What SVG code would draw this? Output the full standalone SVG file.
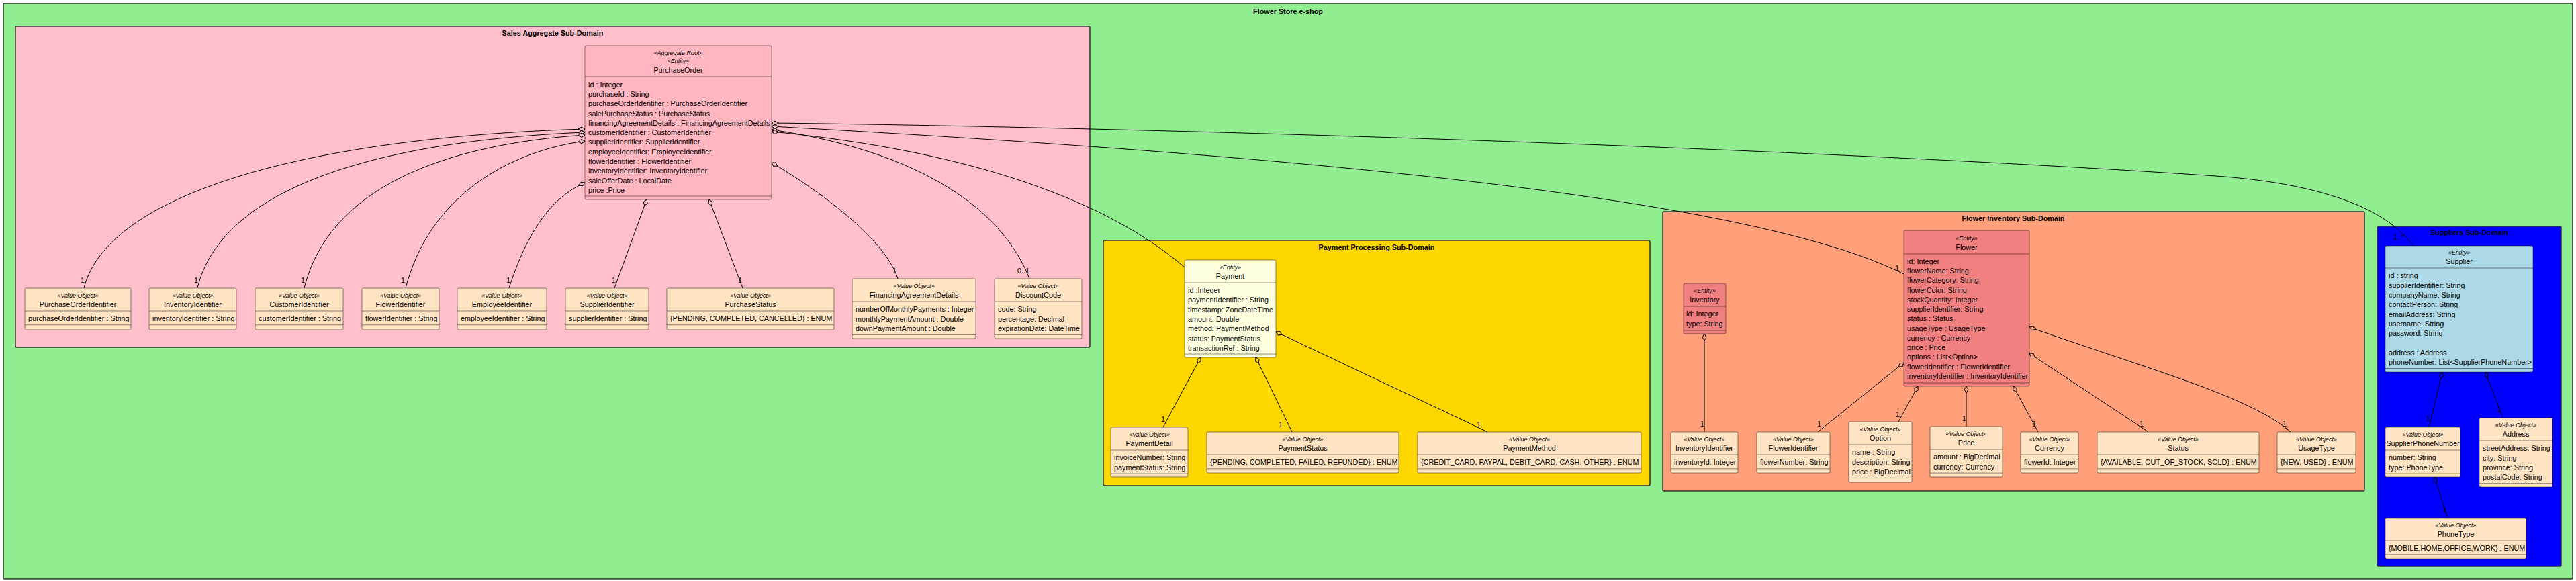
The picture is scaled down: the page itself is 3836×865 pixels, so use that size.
<svg xmlns="http://www.w3.org/2000/svg" width="3836" height="865" viewBox="0 0 3836 865">
<style>
text{font-family:"Liberation Sans",Arial,sans-serif;font-size:10.8px;fill:#000}
.t{font-weight:bold;text-anchor:middle}
.st{font-style:italic;font-size:9px;text-anchor:middle}
.nm{text-anchor:middle}
.ml{text-anchor:middle}
.ct{stroke:#333;stroke-width:1.5}
.bx{stroke:#000;stroke-opacity:.45;stroke-width:1}
.s{stroke:#000;stroke-opacity:.45;stroke-width:1}
.vo{fill:#FFE4C4}
.ln{fill:none;stroke:#000;stroke-width:1}
.lp{marker-start:url(#dp)}
.ly{marker-start:url(#dy)}
.ls{marker-start:url(#ds)}
.lb{marker-start:url(#db)}
</style>
<defs>
<marker id="dp" markerWidth="12" markerHeight="8" refX="0.5" refY="4" orient="auto" markerUnits="userSpaceOnUse" viewBox="0 0 12 8"><path d="M0.5,4 L5.5,1 L10.5,4 L5.5,7 Z" fill="#FFC0CB" stroke="#000" stroke-width="1"/></marker>
<marker id="dy" markerWidth="12" markerHeight="8" refX="0.5" refY="4" orient="auto" markerUnits="userSpaceOnUse" viewBox="0 0 12 8"><path d="M0.5,4 L5.5,1 L10.5,4 L5.5,7 Z" fill="#FFD700" stroke="#000" stroke-width="1"/></marker>
<marker id="ds" markerWidth="12" markerHeight="8" refX="0.5" refY="4" orient="auto" markerUnits="userSpaceOnUse" viewBox="0 0 12 8"><path d="M0.5,4 L5.5,1 L10.5,4 L5.5,7 Z" fill="#FFA07A" stroke="#000" stroke-width="1"/></marker>
<marker id="db" markerWidth="12" markerHeight="8" refX="0.5" refY="4" orient="auto" markerUnits="userSpaceOnUse" viewBox="0 0 12 8"><path d="M0.5,4 L5.5,1 L10.5,4 L5.5,7 Z" fill="#0000FF" stroke="#000" stroke-width="1"/></marker>
</defs>

<g id="frame-store">
<rect class="ct" x="5" y="5" width="3826" height="857" rx="2" fill="#90EE90"/>
<text class="t" x="1918" y="21">Flower Store e-shop</text>
</g>
<g id="frame-sales">
<rect class="ct" x="23" y="39" width="1600" height="478" rx="2" fill="#FFC0CB"/>
<text class="t" x="823" y="53">Sales Aggregate Sub-Domain</text>
</g>
<g id="frame-payment">
<rect class="ct" x="1643" y="358" width="814" height="365" rx="2" fill="#FFD700"/>
<text class="t" x="2050" y="372">Payment Processing Sub-Domain</text>
</g>
<g id="frame-flower">
<rect class="ct" x="2476" y="315" width="1045" height="416" rx="2" fill="#FFA07A"/>
<text class="t" x="2998" y="329">Flower Inventory Sub-Domain</text>
</g>
<g id="frame-suppliers">
<rect class="ct" x="3540" y="337" width="274" height="506" rx="2" fill="#0000FF"/>
<text class="t" x="3677" y="350">Suppliers Sub-Domain</text>
</g>

<g id="connectors">
<path class="ln lp" d="M871,192 C450,205 160,290 125,429"/>
<path class="ln lp" d="M871,197 C560,210 330,280 294,429"/>
<path class="ln lp" d="M871,201 C660,215 490,280 453,429"/>
<path class="ln lp" d="M871,210 C760,225 640,290 604,429"/>
<path class="ln lp" d="M871,272 C830,290 790,330 758,429"/>
<path class="ln lp" d="M963,297 L915,429"/>
<path class="ln lp" d="M1056,297 L1106,429"/>
<path class="ln lp" d="M1149,242 C1230,290 1320,360 1337,415"/>
<path class="ln lp" d="M1149,193 C1400,230 1500,330 1533,415"/>
<path class="ln lp" d="M1149,196 C1450,225 1650,300 1764,398"/>
<path class="ln lp" d="M1149,188 C1900,230 2600,290 2835,408"/>
<path class="ln lp" d="M1149,183 C1600,188 2600,215 3300,262 C3480,275 3560,320 3594,366"/>
<path class="ln ly" d="M1788,532 L1732,636"/>
<path class="ln ly" d="M1870,532 L1924,643"/>
<path class="ln ly" d="M1900,494 L2215,643"/>
<path class="ln ls" d="M2538,497 L2538,643"/>
<path class="ln ls" d="M2835,540 L2707,643"/>
<path class="ln ls" d="M2856,575 L2827,628"/>
<path class="ln ls" d="M2928,575 L2928,635"/>
<path class="ln ls" d="M2998,575 L3035,643"/>
<path class="ln ls" d="M3022,526 L3199,643"/>
<path class="ln ls" d="M3022,487 C3200,550 3350,590 3411,643"/>
<path class="ln lb" d="M3637,554 L3617,636"/>
<path class="ln lb" d="M3701,554 L3727,622"/>
<path class="ln lb" d="M3625,710 L3645,771"/>
<g id="multiplicities">
<text class="ml" x="123" y="421">1</text>
<text class="ml" x="292" y="421">1</text>
<text class="ml" x="451" y="421">1</text>
<text class="ml" x="600" y="421">1</text>
<text class="ml" x="757" y="421">1</text>
<text class="ml" x="914" y="421">1</text>
<text class="ml" x="1102" y="421">1</text>
<text class="ml" x="1332" y="407">1</text>
<text class="ml" x="1524" y="407">0..1</text>
<text class="ml" x="2825" y="403">1</text>
<text class="ml" x="3572" y="357">1..*</text>
<text class="ml" x="1732" y="628">1</text>
<text class="ml" x="1907" y="636">1</text>
<text class="ml" x="2202" y="636">1</text>
<text class="ml" x="2535" y="635">1</text>
<text class="ml" x="2709" y="635">1</text>
<text class="ml" x="2826" y="621">1</text>
<text class="ml" x="2925" y="627">1</text>
<text class="ml" x="3029" y="635">1</text>
<text class="ml" x="3189" y="635">1</text>
<text class="ml" x="3402" y="635">1</text>
<text class="ml" x="3616" y="627">1</text>
<text class="ml" x="3722" y="614">1</text>
<text class="ml" x="3641" y="763">1</text>
</g>
</g>

<g id="PurchaseOrder">
<rect class="bx" x="871" y="68" width="278" height="229" rx="2" fill="#FFB6C1"/>
<text class="st" x="1010" y="82.2">«Aggregate Root»</text>
<text class="st" x="1010" y="94.2">«Entity»</text>
<text class="nm" x="1010" y="107.8">PurchaseOrder</text>
<line class="s" x1="871" y1="114" x2="1149" y2="114"/>
<text x="876" y="129.8">id : Integer</text>
<text x="876" y="144.1">purchaseId : String</text>
<text x="876" y="158.3">purchaseOrderIdentifier : PurchaseOrderIdentifier</text>
<text x="876" y="172.6">salePurchaseStatus : PurchaseStatus</text>
<text x="876" y="186.9">financingAgreementDetails : FinancingAgreementDetails</text>
<text x="876" y="201.2">customerIdentifier : CustomerIdentifier</text>
<text x="876" y="215.4">supplierIdentifier: SupplierIdentifier</text>
<text x="876" y="229.7">employeeIdentifier: EmployeeIdentifier</text>
<text x="876" y="244">flowerIdentifier : FlowerIdentifier</text>
<text x="876" y="258.2">inventoryIdentifier: InventoryIdentifier</text>
<text x="876" y="272.5">saleOfferDate : LocalDate</text>
<text x="876" y="286.8">price :Price</text>
<line class="s" x1="871" y1="292" x2="1149" y2="292"/>
</g>

<g id="PurchaseOrderIdentifier">
<rect class="bx vo" x="37" y="429" width="158" height="62" rx="2"/>
<text class="st" x="116" y="443.2">«Value Object»</text>
<text class="nm" x="116" y="457.3">PurchaseOrderIdentifier</text>
<line class="s" x1="37" y1="463" x2="195" y2="463"/>
<text x="42" y="478.3">purchaseOrderIdentifier : String</text>
<line class="s" x1="37" y1="483.8" x2="195" y2="483.8"/>
</g>
<g id="InventoryIdentifierSales">
<rect class="bx vo" x="222" y="429" width="130" height="62" rx="2"/>
<text class="st" x="287" y="443.2">«Value Object»</text>
<text class="nm" x="287" y="457.3">InventoryIdentifier</text>
<line class="s" x1="222" y1="463" x2="352" y2="463"/>
<text x="227" y="478.3">inventoryIdentifier : String</text>
<line class="s" x1="222" y1="483.8" x2="352" y2="483.8"/>
</g>
<g id="CustomerIdentifier">
<rect class="bx vo" x="380" y="429" width="131" height="62" rx="2"/>
<text class="st" x="445.5" y="443.2">«Value Object»</text>
<text class="nm" x="445.5" y="457.3">CustomerIdentifier</text>
<line class="s" x1="380" y1="463" x2="511" y2="463"/>
<text x="385" y="478.3">customerIdentifier : String</text>
<line class="s" x1="380" y1="483.8" x2="511" y2="483.8"/>
</g>
<g id="FlowerIdentifierSales">
<rect class="bx vo" x="539" y="429" width="115" height="62" rx="2"/>
<text class="st" x="596.5" y="443.2">«Value Object»</text>
<text class="nm" x="596.5" y="457.3">FlowerIdentifier</text>
<line class="s" x1="539" y1="463" x2="654" y2="463"/>
<text x="544" y="478.3">flowerIdentifier : String</text>
<line class="s" x1="539" y1="483.8" x2="654" y2="483.8"/>
</g>
<g id="EmployeeIdentifier">
<rect class="bx vo" x="681" y="429" width="133" height="62" rx="2"/>
<text class="st" x="747.5" y="443.2">«Value Object»</text>
<text class="nm" x="747.5" y="457.3">EmployeeIdentifier</text>
<line class="s" x1="681" y1="463" x2="814" y2="463"/>
<text x="686" y="478.3">employeeIdentifier : String</text>
<line class="s" x1="681" y1="483.8" x2="814" y2="483.8"/>
</g>
<g id="SupplierIdentifier">
<rect class="bx vo" x="842" y="429" width="124" height="62" rx="2"/>
<text class="st" x="904" y="443.2">«Value Object»</text>
<text class="nm" x="904" y="457.3">SupplierIdentifier</text>
<line class="s" x1="842" y1="463" x2="966" y2="463"/>
<text x="847" y="478.3">supplierIdentifier : String</text>
<line class="s" x1="842" y1="483.8" x2="966" y2="483.8"/>
</g>
<g id="PurchaseStatus">
<rect class="bx vo" x="993" y="429" width="249" height="62" rx="2"/>
<text class="st" x="1117.5" y="443.2">«Value Object»</text>
<text class="nm" x="1117.5" y="457.3">PurchaseStatus</text>
<line class="s" x1="993" y1="463" x2="1242" y2="463"/>
<text x="998" y="478.3">{PENDING, COMPLETED, CANCELLED} : ENUM</text>
<line class="s" x1="993" y1="483.8" x2="1242" y2="483.8"/>
</g>
<g id="FinancingAgreementDetails">
<rect class="bx vo" x="1269" y="415" width="184" height="89" rx="2"/>
<text class="st" x="1361" y="429.2">«Value Object»</text>
<text class="nm" x="1361" y="443.3">FinancingAgreementDetails</text>
<line class="s" x1="1269" y1="449" x2="1453" y2="449"/>
<text x="1274" y="464.3">numberOfMonthlyPayments : Integer</text>
<text x="1274" y="478.6">monthlyPaymentAmount : Double</text>
<text x="1274" y="492.9">downPaymentAmount : Double</text>
<line class="s" x1="1269" y1="498.4" x2="1453" y2="498.4"/>
</g>
<g id="DiscountCode">
<rect class="bx vo" x="1481" y="415" width="130" height="89" rx="2"/>
<text class="st" x="1546" y="429.2">«Value Object»</text>
<text class="nm" x="1546" y="443.3">DiscountCode</text>
<line class="s" x1="1481" y1="449" x2="1611" y2="449"/>
<text x="1486" y="464.3">code: String</text>
<text x="1486" y="478.6">percentage: Decimal</text>
<text x="1486" y="492.9">expirationDate: DateTime</text>
<line class="s" x1="1481" y1="498.4" x2="1611" y2="498.4"/>
</g>

<g id="Payment">
<rect class="bx" x="1764" y="387" width="136" height="145" rx="2" fill="#FFFFE0"/>
<text class="st" x="1832" y="401.2">«Entity»</text>
<text class="nm" x="1832" y="415.3">Payment</text>
<line class="s" x1="1764" y1="421" x2="1900" y2="421"/>
<text x="1769" y="436">id :Integer</text>
<text x="1769" y="450.3">paymentIdentifier : String</text>
<text x="1769" y="464.6">timestamp: ZoneDateTime</text>
<text x="1769" y="478.9">amount: Double</text>
<text x="1769" y="493.2">method: PaymentMethod</text>
<text x="1769" y="507.5">status: PaymentStatus</text>
<text x="1769" y="521.8">transactionRef : String</text>
<line class="s" x1="1764" y1="527" x2="1900" y2="527"/>
</g>
<g id="PaymentDetail">
<rect class="bx vo" x="1654" y="636" width="115" height="74" rx="2"/>
<text class="st" x="1711.5" y="650.2">«Value Object»</text>
<text class="nm" x="1711.5" y="664.3">PaymentDetail</text>
<line class="s" x1="1654" y1="670" x2="1769" y2="670"/>
<text x="1659" y="685.3">invoiceNumber: String</text>
<text x="1659" y="699.6">paymentStatus: String</text>
<line class="s" x1="1654" y1="705.1" x2="1769" y2="705.1"/>
</g>
<g id="PaymentStatus">
<rect class="bx vo" x="1797" y="643" width="286" height="61" rx="2"/>
<text class="st" x="1940" y="657.2">«Value Object»</text>
<text class="nm" x="1940" y="671.3">PaymentStatus</text>
<line class="s" x1="1797" y1="677" x2="2083" y2="677"/>
<text x="1802" y="692.3">{PENDING, COMPLETED, FAILED, REFUNDED} : ENUM</text>
<line class="s" x1="1797" y1="697.8" x2="2083" y2="697.8"/>
</g>
<g id="PaymentMethod">
<rect class="bx vo" x="2111" y="643" width="333" height="61" rx="2"/>
<text class="st" x="2277.5" y="657.2">«Value Object»</text>
<text class="nm" x="2277.5" y="671.3">PaymentMethod</text>
<line class="s" x1="2111" y1="677" x2="2444" y2="677"/>
<text x="2116" y="692.3">{CREDIT_CARD, PAYPAL, DEBIT_CARD, CASH, OTHER} : ENUM</text>
<line class="s" x1="2111" y1="697.8" x2="2444" y2="697.8"/>
</g>

<g id="Inventory">
<rect class="bx" x="2507" y="422" width="63" height="75" rx="2" fill="#F08080"/>
<text class="st" x="2538.5" y="436.2">«Entity»</text>
<text class="nm" x="2538.5" y="450.3">Inventory</text>
<line class="s" x1="2507" y1="456" x2="2570" y2="456"/>
<text x="2511" y="471.3">id: Integer</text>
<text x="2511" y="485.6">type: String</text>
<line class="s" x1="2507" y1="492" x2="2570" y2="492"/>
</g>
<g id="Flower">
<rect class="bx" x="2835" y="343" width="187" height="232" rx="2" fill="#F08080"/>
<text class="st" x="2928.5" y="358.2">«Entity»</text>
<text class="nm" x="2928.5" y="371.8">Flower</text>
<line class="s" x1="2835" y1="378" x2="3022" y2="378"/>
<text x="2840" y="392.8">id: Integer</text>
<text x="2840" y="407">flowerName: String</text>
<text x="2840" y="421.3">flowerCategory: String</text>
<text x="2840" y="435.5">flowerColor: String</text>
<text x="2840" y="449.8">stockQuantity: Integer</text>
<text x="2840" y="464">supplierIdentifier: String</text>
<text x="2840" y="478.3">status : Status</text>
<text x="2840" y="492.5">usageType : UsageType</text>
<text x="2840" y="506.8">currency : Currency</text>
<text x="2840" y="521">price : Price</text>
<text x="2840" y="535.3">options : List&lt;Option&gt;</text>
<text x="2840" y="549.5">flowerIdentifier : FlowerIdentifier</text>
<text x="2840" y="563.8">inventoryIdentifier : InventoryIdentifier</text>
<line class="s" x1="2835" y1="570" x2="3022" y2="570"/>
</g>
<g id="InventoryIdentifier">
<rect class="bx vo" x="2488" y="643" width="100" height="61" rx="2"/>
<text class="st" x="2538" y="657.2">«Value Object»</text>
<text class="nm" x="2538" y="671.3">InventoryIdentifier</text>
<line class="s" x1="2488" y1="677" x2="2588" y2="677"/>
<text x="2493" y="692.3">inventoryId: Integer</text>
<line class="s" x1="2488" y1="697.8" x2="2588" y2="697.8"/>
</g>
<g id="FlowerIdentifier">
<rect class="bx vo" x="2616" y="643" width="109" height="61" rx="2"/>
<text class="st" x="2670.5" y="657.2">«Value Object»</text>
<text class="nm" x="2670.5" y="671.3">FlowerIdentifier</text>
<line class="s" x1="2616" y1="677" x2="2725" y2="677"/>
<text x="2621" y="692.3">flowerNumber: String</text>
<line class="s" x1="2616" y1="697.8" x2="2725" y2="697.8"/>
</g>
<g id="Option">
<rect class="bx vo" x="2753" y="628" width="94" height="90" rx="2"/>
<text class="st" x="2800" y="642.2">«Value Object»</text>
<text class="nm" x="2800" y="656.3">Option</text>
<line class="s" x1="2753" y1="662" x2="2847" y2="662"/>
<text x="2758" y="677.3">name : String</text>
<text x="2758" y="691.6">description: String</text>
<text x="2758" y="705.9">price : BigDecimal</text>
<line class="s" x1="2753" y1="711.4" x2="2847" y2="711.4"/>
</g>
<g id="Price">
<rect class="bx vo" x="2874" y="635" width="108" height="75" rx="2"/>
<text class="st" x="2928" y="649.2">«Value Object»</text>
<text class="nm" x="2928" y="663.3">Price</text>
<line class="s" x1="2874" y1="669" x2="2982" y2="669"/>
<text x="2879" y="684.3">amount : BigDecimal</text>
<text x="2879" y="698.6">currency: Currency</text>
<line class="s" x1="2874" y1="704.1" x2="2982" y2="704.1"/>
</g>
<g id="Currency">
<rect class="bx vo" x="3009" y="643" width="86" height="61" rx="2"/>
<text class="st" x="3052" y="657.2">«Value Object»</text>
<text class="nm" x="3052" y="671.3">Currency</text>
<line class="s" x1="3009" y1="677" x2="3095" y2="677"/>
<text x="3014" y="692.3">flowerId: Integer</text>
<line class="s" x1="3009" y1="697.8" x2="3095" y2="697.8"/>
</g>
<g id="Status">
<rect class="bx vo" x="3123" y="643" width="241" height="61" rx="2"/>
<text class="st" x="3243.5" y="657.2">«Value Object»</text>
<text class="nm" x="3243.5" y="671.3">Status</text>
<line class="s" x1="3123" y1="677" x2="3364" y2="677"/>
<text x="3128" y="692.3">{AVAILABLE, OUT_OF_STOCK, SOLD} : ENUM</text>
<line class="s" x1="3123" y1="697.8" x2="3364" y2="697.8"/>
</g>
<g id="UsageType">
<rect class="bx vo" x="3391" y="643" width="117" height="61" rx="2"/>
<text class="st" x="3449.5" y="657.2">«Value Object»</text>
<text class="nm" x="3449.5" y="671.3">UsageType</text>
<line class="s" x1="3391" y1="677" x2="3508" y2="677"/>
<text x="3396" y="692.3">{NEW, USED} : ENUM</text>
<line class="s" x1="3391" y1="697.8" x2="3508" y2="697.8"/>
</g>

<g id="Supplier">
<rect class="bx" x="3552" y="366" width="220" height="188" rx="2" fill="#ADD8E6"/>
<text class="st" x="3662" y="379.2">«Entity»</text>
<text class="nm" x="3662" y="392.8">Supplier</text>
<line class="s" x1="3552" y1="399" x2="3772" y2="399"/>
<text x="3557" y="414.3">id : string</text>
<text x="3557" y="428.6">supplierIdentifier: String</text>
<text x="3557" y="442.9">companyName: String</text>
<text x="3557" y="457.2">contactPerson: String</text>
<text x="3557" y="471.5">emailAddress: String</text>
<text x="3557" y="485.8">username: String</text>
<text x="3557" y="500.1">password: String</text>
<text x="3557" y="528.7">address : Address</text>
<text x="3557" y="543">phoneNumber: List&lt;SupplierPhoneNumber&gt;</text>
<line class="s" x1="3552" y1="548.5" x2="3772" y2="548.5"/>
</g>
<g id="SupplierPhoneNumber">
<rect class="bx vo" x="3552" y="636" width="112" height="74" rx="2"/>
<text class="st" x="3608" y="650.2">«Value Object»</text>
<text class="nm" x="3608" y="664.3">SupplierPhoneNumber</text>
<line class="s" x1="3552" y1="670" x2="3664" y2="670"/>
<text x="3557" y="685.3">number: String</text>
<text x="3557" y="699.6">type: PhoneType</text>
<line class="s" x1="3552" y1="705.1" x2="3664" y2="705.1"/>
</g>
<g id="Address">
<rect class="bx vo" x="3692" y="622" width="109" height="103" rx="2"/>
<text class="st" x="3746.5" y="636.2">«Value Object»</text>
<text class="nm" x="3746.5" y="650.3">Address</text>
<line class="s" x1="3692" y1="656" x2="3801" y2="656"/>
<text x="3697" y="671.3">streetAddress: String</text>
<text x="3697" y="685.6">city: String</text>
<text x="3697" y="699.9">province: String</text>
<text x="3697" y="714.2">postalCode: String</text>
<line class="s" x1="3692" y1="719.7" x2="3801" y2="719.7"/>
</g>
<g id="PhoneType">
<rect class="bx vo" x="3552" y="771" width="210" height="61" rx="2"/>
<text class="st" x="3657" y="785.2">«Value Object»</text>
<text class="nm" x="3657" y="799.3">PhoneType</text>
<line class="s" x1="3552" y1="805" x2="3762" y2="805"/>
<text x="3557" y="820.3">{MOBILE,HOME,OFFICE,WORK} : ENUM</text>
<line class="s" x1="3552" y1="825.8" x2="3762" y2="825.8"/>
</g>
</svg>
